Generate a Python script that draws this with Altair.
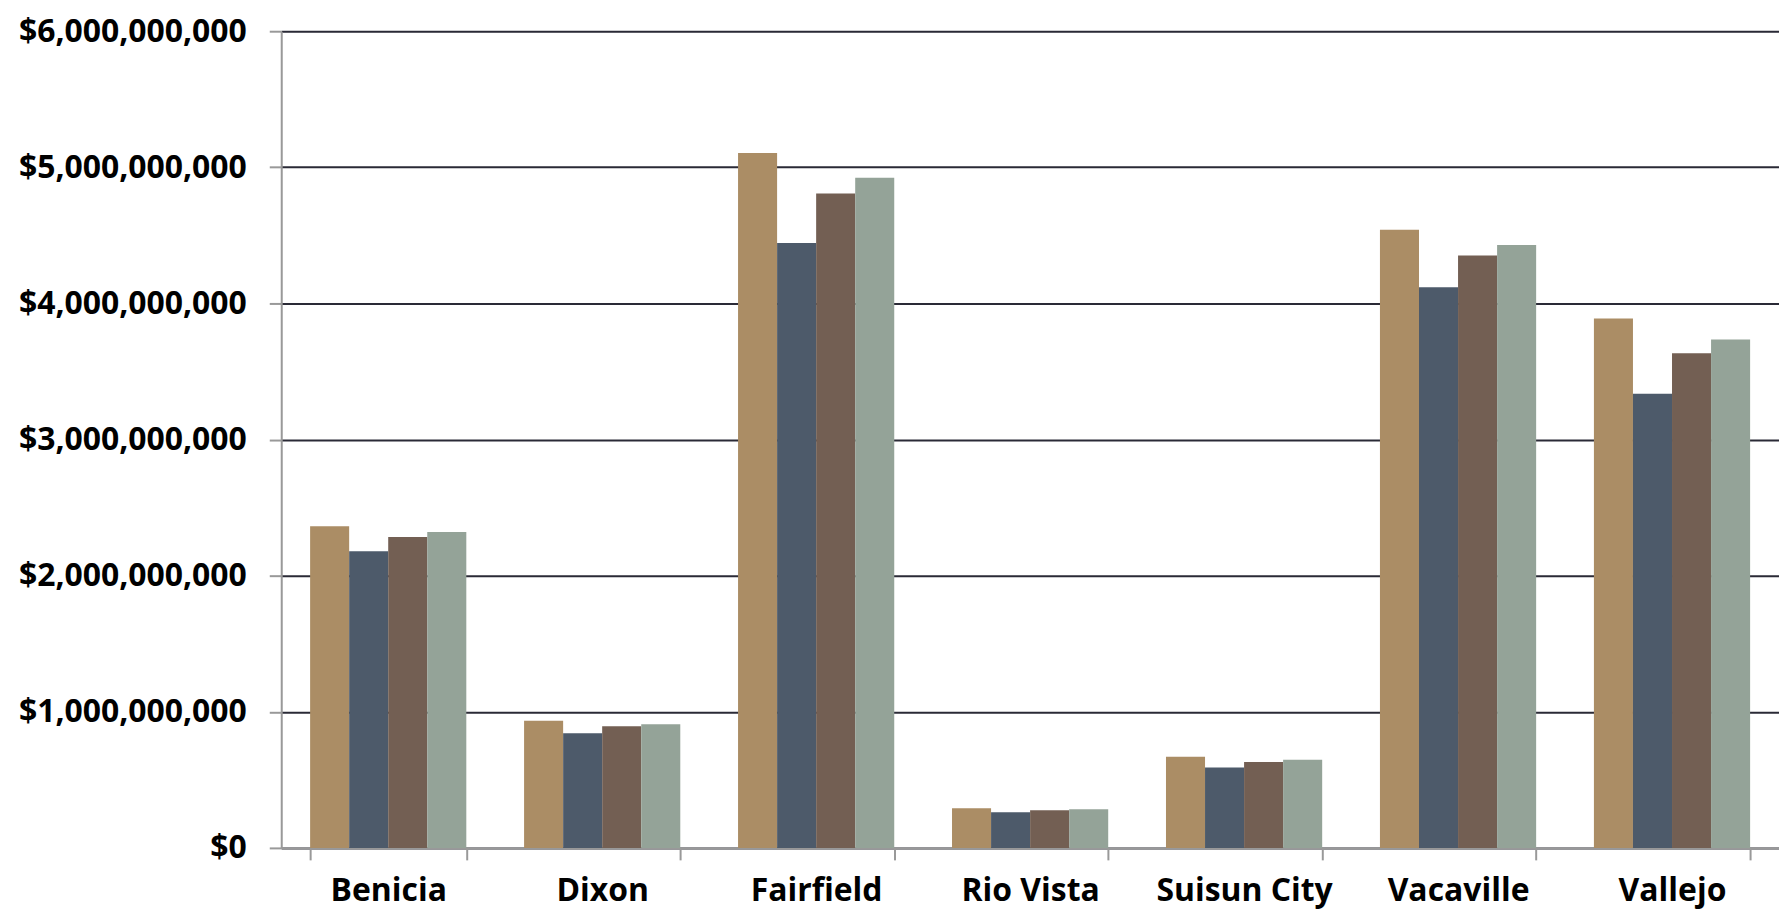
import altair as alt
import pandas as pd

cities = ["Benicia", "Dixon", "Fairfield", "Rio Vista", "Suisun City", "Vacaville", "Vallejo"]
series = ["Series 1", "Series 2", "Series 3", "Series 4"]
colors = ["#AB8D65", "#4D5A6A", "#735F53", "#94A398"]

s1 = [2.364e9, 0.935e9, 5.106e9, 0.292e9, 0.670e9, 4.541e9, 3.890e9]
s2 = [2.180e9, 0.843e9, 4.444e9, 0.262e9, 0.590e9, 4.119e9, 3.337e9]
s3 = [2.284e9, 0.893e9, 4.808e9, 0.277e9, 0.632e9, 4.352e9, 3.634e9]
s4 = [2.320e9, 0.908e9, 4.924e9, 0.284e9, 0.648e9, 4.430e9, 3.735e9]

y_ticks = [0, 1e9, 2e9, 3e9, 4e9, 5e9, 6e9]

rows = []
for name, vals in zip(series, [s1, s2, s3, s4]):
    for c, v in zip(cities, vals):
        rows.append({"city": c, "series": name, "value": v})
df = pd.DataFrame(rows)

FONT = "Open Sans"

chart = alt.Chart(df).mark_bar().encode(
    x=alt.X(
        "city:N",
        sort=cities,
        scale=alt.Scale(paddingInner=0.27, paddingOuter=0.135),
        axis=alt.Axis(
            title=None,
            labelAngle=0,
            tickBand="extent",
            domainColor="#999999",
            domainWidth=2,
            tickColor="#999999",
            tickWidth=2,
            tickSize=12,
            labelPadding=16,
            labelLimit=600,
            labelFont=FONT,
            labelFontSize=32,
            labelFontWeight="bold",
            labelColor="#000000",
            grid=False,
        ),
    ),
    xOffset=alt.XOffset("series:N", sort=series, scale=alt.Scale(paddingInner=0, paddingOuter=0)),
    y=alt.Y(
        "value:Q",
        scale=alt.Scale(domain=[0, 6e9], nice=False),
        axis=alt.Axis(
            title=None,
            values=y_ticks,
            format="$,.0f",
            domainColor="#999999",
            domainWidth=2,
            tickColor="#999999",
            tickWidth=2,
            tickSize=12,
            labelPadding=23,
            labelLimit=600,
            labelFont=FONT,
            labelFontSize=32,
            labelFontWeight="bold",
            labelColor="#000000",
            grid=True,
            gridColor="#2A2A36",
            gridWidth=2,
        ),
    ),
    color=alt.Color("series:N", sort=series, scale=alt.Scale(domain=series, range=colors), legend=None),
).properties(
    width=1502,
    height=819,
    padding={"left": 274, "top": 22, "right": 0, "bottom": 63},
    autosize=alt.AutoSizeParams(type="none"),
).configure_view(stroke=None).configure(background="white")

chart.save("out.html", embed_options={"renderer": "svg", "actions": False})
